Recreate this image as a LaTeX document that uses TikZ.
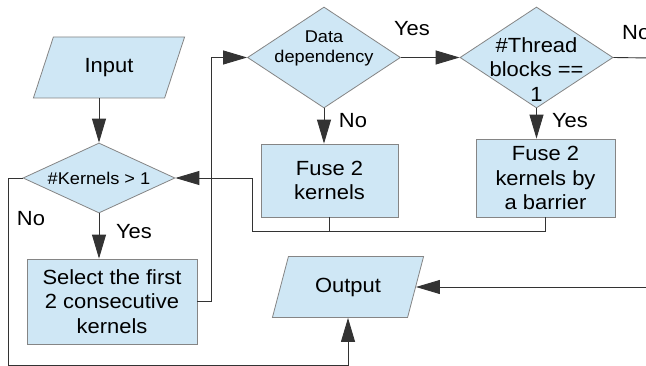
\documentclass[tikz,border=0pt]{standalone}
\usepackage{fontspec}
\setmainfont{Liberation Sans}[FakeStretch=1.07]
\usetikzlibrary{shapes.geometric,arrows.meta,calc}

\definecolor{boxfill}{HTML}{CFE7F5}
\definecolor{boxline}{HTML}{858585}
\definecolor{wire}{HTML}{333333}

\newcommand{\bigtext}{\fontsize{20.5}{24.5}\selectfont}
\newcommand{\smalltext}{\fontsize{17}{20}\selectfont}

\tikzset{
  shapebase/.style={fill=boxfill, draw=boxline, line width=0.8pt, inner sep=0pt},
  procbox/.style={shapebase, rectangle, align=center, font=\bigtext},
  decision/.style={shapebase, diamond, minimum width=153pt, minimum height=101pt},
  iobox/.style={shapebase, trapezium, trapezium left angle=64.5, trapezium right angle=115.5,
    trapezium stretches=true, minimum width=152pt, minimum height=61pt, font=\bigtext},
  caption/.style={inner sep=0pt, align=center},
  wire/.style={draw=wire, line width=0.9pt},
  flow/.style={wire, -{Triangle[length=24pt,width=14pt]}},
  answer/.style={inner sep=0pt, font=\bigtext}
}

\begin{document}
\begin{tikzpicture}[x=1pt,y=-1pt]
\clip (0,0) rectangle (646,366);
\fill[white] (0,0) rectangle (646,366);

% input / output
\node[iobox] (in) at (109,67.5) {Input};
\node[iobox] (out) at (348,287) {Output};

% decisions
\node[decision, minimum width=152pt, minimum height=70pt] (k) at (99,178) {};
\node[caption, font=\smalltext] at (k.center) {\#Kernels > 1};

\node[decision] (dd) at (324,57.5) {};
\node[caption, font=\smalltext] at ($(dd.center)+(0,-9)$) {Data\\dependency};

\node[decision] (thr) at (536.5,57.5) {};
\node[caption, font=\bigtext] at ($(thr.center)+(0,12)$) {\#Thread\\blocks ==\\1};

% processes
\node[procbox, minimum width=170pt, minimum height=85pt] (sel) at (112,301.5)
  {Select the first\\2 consecutive\\kernels};
\node[procbox, minimum width=137pt, minimum height=73pt] (f2) at (329.5,180.5)
  {Fuse 2\\kernels};
\node[procbox, minimum width=139pt, minimum height=78pt] (fb) at (545.5,178)
  {Fuse 2\\kernels by\\a barrier};

% routing points
\coordinate (join) at (252,231);
\coordinate (lowrun) at (8,365);
\coordinate (noend) at (650,58);
\coordinate (outsrc) at (650,287);

% connectors
\draw[flow] (k.north |- in.south) -- (k.north);
\draw[flow] (k.south) -- (k.south |- sel.north);
\draw[flow] (sel.east) -- ++(14,0) |- (dd.west);
\draw[flow] (dd.east) -- (thr.west);
\draw[flow] (dd.south) -- (dd.south |- f2.north);
\draw[flow] (thr.south) -- (thr.south |- fb.north);
\draw[wire] (thr.east) -- (noend);
\draw[wire] (f2.south) -- (f2.south |- join);
\draw[flow] (fb.south) |- (join) |- (k.east);
\draw[flow] (k.west) -| (lowrun) -| (out.south);
\draw[flow] (outsrc) -- (out.east);

% branch labels
\node[answer] at (134,232) {Yes};
\node[answer] at (31,219) {No};
\node[answer] at (412,29) {Yes};
\node[answer] at (353,121) {No};
\node[answer] at (570,121) {Yes};
\node[answer, anchor=west] at (622,33) {No};
\end{tikzpicture}
\end{document}
